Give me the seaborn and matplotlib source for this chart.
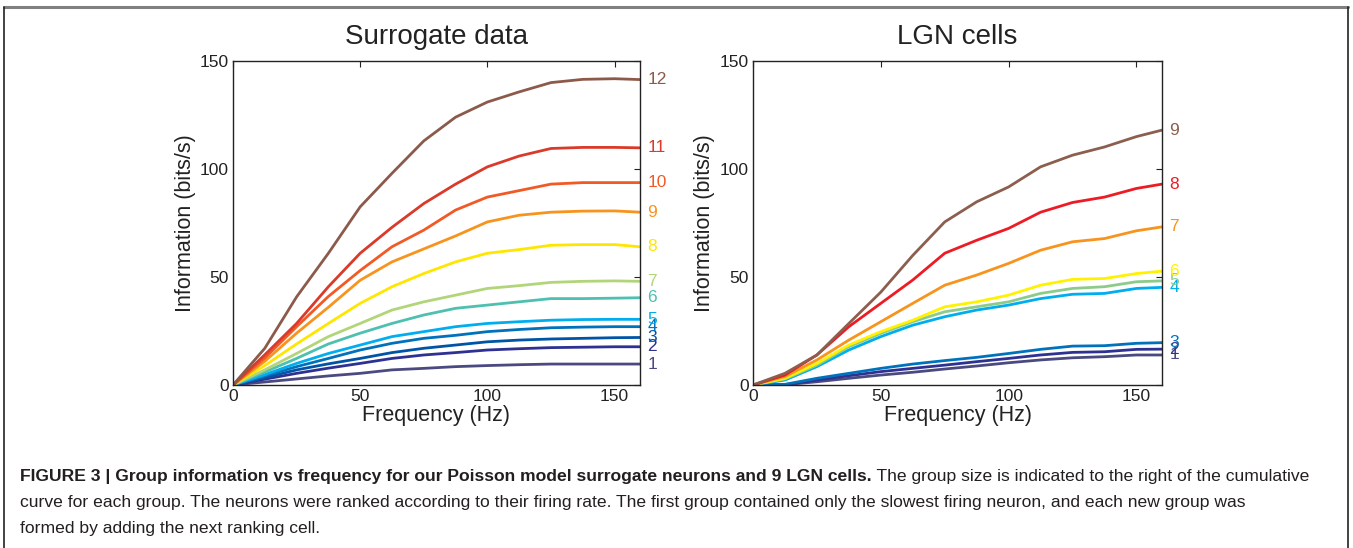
import matplotlib
matplotlib.use("Agg")
import matplotlib.pyplot as plt
import seaborn as sns
from matplotlib.lines import Line2D
from matplotlib import font_manager
import matplotlib.transforms as mtransforms

# ---------------- data ----------------
freq = [0, 12.5, 25, 37.5, 50, 62.5, 75, 87.5, 100, 112.5, 125, 137.5, 150, 160]

sur_g1 = [0, 1.4, 2.8, 4.2, 5.4, 7.0, 7.7, 8.5, 9.0, 9.4, 9.7, 9.7, 9.7, 9.7]
sur_g2 = [0, 2.7, 5.4, 7.8, 10.0, 12.3, 13.9, 15.0, 16.2, 16.8, 17.3, 17.5, 17.7, 17.7]
sur_g3 = [0, 3.4, 7.0, 9.8, 12.3, 15.0, 17.0, 18.5, 20.0, 20.8, 21.3, 21.6, 21.9, 22.0]
sur_g4 = [0, 4.2, 8.5, 12.3, 16.2, 19.3, 21.6, 23.0, 24.7, 25.7, 26.5, 26.8, 27.0, 27.0]
sur_g5 = [0, 4.8, 10.0, 14.6, 18.5, 22.4, 24.7, 27.0, 28.5, 29.3, 30.0, 30.3, 30.4, 30.4]
sur_g6 = [0, 6.0, 12.3, 19.0, 24.0, 28.5, 32.4, 35.5, 37.0, 38.5, 40.0, 40.0, 40.2, 40.4]
sur_g7 = [0, 7.0, 14.6, 22.4, 28.5, 34.7, 38.5, 41.6, 44.7, 46.0, 47.5, 48.0, 48.2, 48.0]
sur_g8 = [0, 9.0, 19.0, 28.5, 37.8, 45.5, 51.6, 57.0, 61.0, 62.7, 64.7, 65.0, 65.0, 64.0]
sur_g9 = [0, 11.0, 24.0, 36.0, 48.5, 57.0, 63.0, 69.0, 75.5, 78.6, 80.0, 80.5, 80.6, 80.0]
sur_g10 = [0, 12.5, 27.0, 41.0, 53.0, 64.0, 71.7, 81.0, 87.0, 90.0, 93.0, 93.7, 93.7, 93.7]
sur_g11 = [0, 14.0, 28.5, 45.5, 61.0, 73.0, 84.0, 93.0, 101.0, 106.0, 109.5, 110.0, 110.0, 109.8]
sur_g12 = [0, 17.0, 40.8, 61.0, 82.5, 98.0, 113.0, 124.0, 131.0, 135.7, 140.0, 141.5, 141.8, 141.4]

lgn_g1 = [0, 0.1, 1.5, 3.1, 4.6, 5.9, 7.4, 8.8, 10.3, 11.6, 12.6, 13.1, 13.9, 13.9]
lgn_g2 = [0, 0.15, 2.3, 4.3, 6.2, 7.7, 9.2, 10.8, 12.3, 13.9, 15.1, 15.4, 16.5, 16.6]
lgn_g3 = [0, 0.3, 3.1, 5.4, 7.7, 9.7, 11.3, 12.8, 14.6, 16.5, 18.0, 18.2, 19.3, 19.6]
lgn_g4 = [0, 2.3, 8.5, 16.2, 22.4, 27.7, 31.6, 34.7, 37.0, 40.0, 42.0, 42.4, 44.7, 45.2]
lgn_g5 = [0, 2.8, 9.2, 17.7, 23.9, 29.3, 33.9, 36.2, 38.5, 42.4, 44.7, 45.5, 47.8, 48.2]
lgn_g6 = [0, 3.1, 10.0, 18.5, 24.7, 30.0, 36.2, 38.5, 41.6, 46.2, 48.9, 49.3, 51.6, 52.7]
lgn_g7 = [0, 3.9, 11.6, 20.8, 29.3, 37.8, 46.2, 50.9, 56.3, 62.4, 66.3, 67.8, 71.4, 73.2]
lgn_g8 = [0, 4.6, 13.9, 27.0, 37.8, 48.6, 61.0, 67.0, 72.5, 80.0, 84.5, 87.0, 91.0, 93.0]
lgn_g9 = [0, 5.4, 13.9, 28.5, 43.0, 60.0, 75.5, 84.8, 91.7, 101.0, 106.4, 110.2, 115.0, 118.0]

sur_series = [sur_g1, sur_g2, sur_g3, sur_g4, sur_g5, sur_g6,
              sur_g7, sur_g8, sur_g9, sur_g10, sur_g11, sur_g12]
lgn_series = [lgn_g1, lgn_g2, lgn_g3, lgn_g4, lgn_g5, lgn_g6, lgn_g7, lgn_g8, lgn_g9]
sur_labels = [str(i) for i in range(1, 13)]
lgn_labels = [str(i) for i in range(1, 10)]

sur_colors = ["#4B4A80", "#2E3192", "#0054A6", "#0072BC", "#00AEEF", "#4DC0B0",
              "#B2D57A", "#FFE600", "#F7941D", "#F15A24", "#DA3A2A", "#8C5A4A"]
lgn_colors = ["#4B4A80", "#2E3192", "#0072BC", "#00AEEF", "#8DCB8B", "#FFF200",
              "#F7941D", "#ED1C24", "#8C5E4E"]

titles = ["Surrogate data", "LGN cells"]
x_label = "Frequency (Hz)"
y_label = "Information (bits/s)"
ticks = [0, 50, 100, 150]

caption_bold = ("FIGURE 3 | Group information vs frequency for our Poisson model "
                "surrogate neurons and 9 LGN cells.")
caption_line1 = " The group size is indicated to the right of the cumulative"
caption_line2 = ("curve for each group. The neurons were ranked according to their firing "
                 "rate. The first group contained only the slowest firing neuron, and each "
                 "new group was")
caption_line3 = "formed by adding the next ranking cell."

# ---------------- style ----------------
sns.set_style("white")
plt.rcParams['font.family'] = ['Liberation Sans', 'DejaVu Sans']

W, H = 1353, 548
fig = plt.figure(figsize=(W / 100, H / 100), dpi=100)

ax_rects = [[233 / W, 1 - 385 / H, 407 / W, 324 / H],
            [753 / W, 1 - 385 / H, 409 / W, 324 / H]]

panels = [(sur_series, sur_colors, sur_labels), (lgn_series, lgn_colors, lgn_labels)]

for k, (series, colors, labels) in enumerate(panels):
    ax = fig.add_axes(ax_rects[k])
    for vals, col, lab in zip(series, colors, labels):
        sns.lineplot(x=freq, y=vals, color=col, linewidth=2.0, ax=ax)
        ax.text(1.018, vals[-1], lab, color=col, fontsize=12.5,
                transform=mtransforms.blended_transform_factory(ax.transAxes, ax.transData),
                ha="left", va="center", clip_on=False)
    ax.set_xlim(0, 160)
    ax.set_ylim(0, 150)
    ax.set_xticks(ticks)
    ax.set_yticks(ticks)
    ax.tick_params(direction="in", top=True, right=True, length=4, width=0.8,
                   labelsize=12.5, colors="#222222", pad=3)
    for sp in ax.spines.values():
        sp.set_visible(True)
        sp.set_color("#222222")
        sp.set_linewidth(1.0)
    ax.set_title(titles[k], fontsize=20, pad=12, color="#222222")
    ax.set_xlabel(x_label, fontsize=15.5, color="#222222")
    ax.set_ylabel(y_label, fontsize=15.5, color="#222222")
    ax.xaxis.set_label_coords(0.5, -0.062)
    ax.yaxis.set_label_coords(-0.092, 0.5)

# ---------------- frame ----------------
fig.add_artist(Line2D([4 / W, 1348 / W], [1 - 7 / H, 1 - 7 / H], color="#808080",
                      linewidth=2.2, transform=fig.transFigure))
fig.add_artist(Line2D([4 / W, 4 / W], [1 - 7 / H, 0], color="#222222",
                      linewidth=1.2, transform=fig.transFigure))
fig.add_artist(Line2D([1348 / W, 1348 / W], [1 - 7 / H, 0], color="#222222",
                      linewidth=1.2, transform=fig.transFigure))

# ---------------- caption ----------------
avail = {f.name for f in font_manager.fontManager.ttflist}
cap_family = ['Liberation Sans Narrow'] if 'Liberation Sans Narrow' in avail else ['Liberation Sans']
x0 = 20 / W
renderer = fig.canvas.get_renderer()
fs0 = 12


def text_width(s, **kw):
    t = fig.text(x0, 0.5, s, fontsize=fs0, family=cap_family, **kw)
    w = t.get_window_extent(renderer).width
    t.remove()
    return w


w2 = text_width(caption_line2)
w1 = text_width(caption_bold, fontweight="bold") + text_width(caption_line1)
fs = 0.98 * fs0 * min((1290 - 20) / w2, (1333 - 20) / w1)

tb = fig.text(x0, 1 - 477 / H, caption_bold, fontsize=fs, family=cap_family,
              fontweight="bold", va="center", color="#231F20")
bb = tb.get_window_extent(renderer)
fig.text(bb.x1 / W, 1 - 477 / H, caption_line1, fontsize=fs, family=cap_family,
         va="center", color="#231F20")
fig.text(x0, 1 - 503 / H, caption_line2, fontsize=fs, family=cap_family,
         va="center", color="#231F20")
fig.text(x0, 1 - 528 / H, caption_line3, fontsize=fs, family=cap_family,
         va="center", color="#231F20")

fig.savefig("out.png", dpi=100)
